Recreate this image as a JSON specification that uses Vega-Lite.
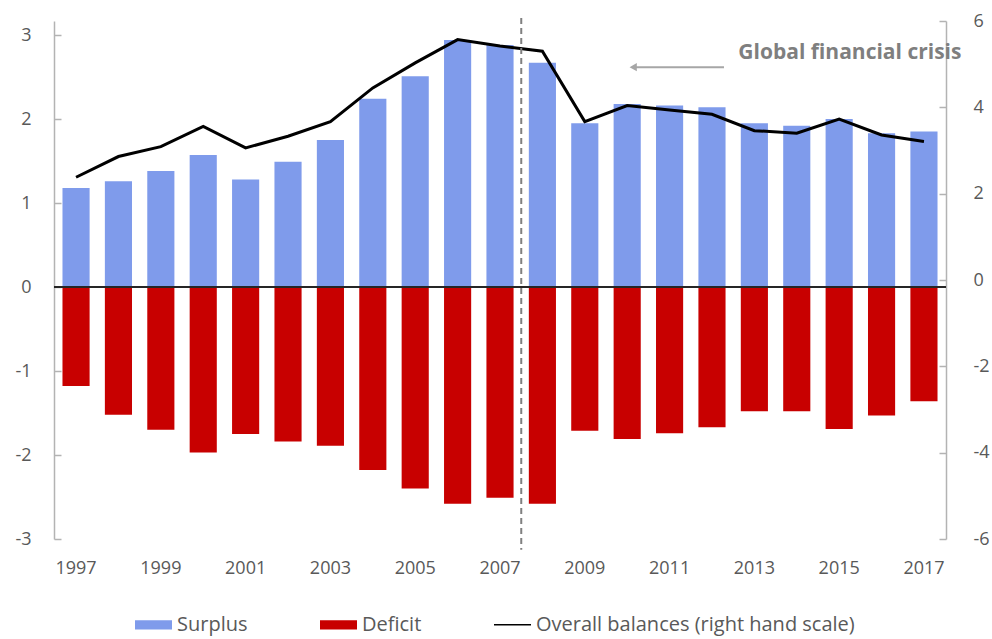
{
  "$schema": "https://vega.github.io/schema/vega-lite/v6.json",
  "width": 892,
  "height": 518,
  "autosize": {"type": "none"},
  "padding": {"left": 54, "top": 21, "right": 46, "bottom": 100},
  "background": "white",
  "config": {
    "view": {"stroke": null},
    "font": "Open Sans",
    "axis": {
      "grid": false,
      "labelFont": "Open Sans",
      "labelFontSize": 18,
      "labelColor": "#595959",
      "domainColor": "#b3b3b3",
      "domainWidth": 1.5,
      "tickColor": "#b3b3b3",
      "tickWidth": 1.5,
      "title": null
    }
  },
  "datasets": {
    "balances": [
      {"year": 1997, "Surplus": 1.18, "Deficit": -1.18, "Overall": 2.38},
      {"year": 1998, "Surplus": 1.26, "Deficit": -1.52, "Overall": 2.86},
      {"year": 1999, "Surplus": 1.38, "Deficit": -1.70, "Overall": 3.09},
      {"year": 2000, "Surplus": 1.57, "Deficit": -1.97, "Overall": 3.56},
      {"year": 2001, "Surplus": 1.28, "Deficit": -1.75, "Overall": 3.06},
      {"year": 2002, "Surplus": 1.49, "Deficit": -1.84, "Overall": 3.33},
      {"year": 2003, "Surplus": 1.75, "Deficit": -1.89, "Overall": 3.67},
      {"year": 2004, "Surplus": 2.24, "Deficit": -2.18, "Overall": 4.45},
      {"year": 2005, "Surplus": 2.51, "Deficit": -2.40, "Overall": 5.03},
      {"year": 2006, "Surplus": 2.94, "Deficit": -2.58, "Overall": 5.57},
      {"year": 2007, "Surplus": 2.88, "Deficit": -2.51, "Overall": 5.42},
      {"year": 2008, "Surplus": 2.67, "Deficit": -2.58, "Overall": 5.30},
      {"year": 2009, "Surplus": 1.95, "Deficit": -1.71, "Overall": 3.67},
      {"year": 2010, "Surplus": 2.18, "Deficit": -1.81, "Overall": 4.04},
      {"year": 2011, "Surplus": 2.16, "Deficit": -1.74, "Overall": 3.94},
      {"year": 2012, "Surplus": 2.14, "Deficit": -1.67, "Overall": 3.84},
      {"year": 2013, "Surplus": 1.95, "Deficit": -1.48, "Overall": 3.46},
      {"year": 2014, "Surplus": 1.92, "Deficit": -1.48, "Overall": 3.40},
      {"year": 2015, "Surplus": 2.00, "Deficit": -1.69, "Overall": 3.73},
      {"year": 2016, "Surplus": 1.83, "Deficit": -1.53, "Overall": 3.36},
      {"year": 2017, "Surplus": 1.85, "Deficit": -1.36, "Overall": 3.21}
    ]
  },
  "data": {"name": "balances"},
  "layer": [
    {
      "layer": [
        {
          "transform": [{"fold": ["Surplus", "Deficit"], "as": ["series", "value"]}],
          "mark": {"type": "bar"},
          "encoding": {
            "x": {
              "field": "year",
              "type": "ordinal",
              "scale": {"paddingInner": 0.36, "paddingOuter": 0.2},
              "axis": {
                "orient": "bottom",
                "values": [1997, 1999, 2001, 2003, 2005, 2007, 2009, 2011, 2013, 2015, 2017],
                "domain": false,
                "ticks": false,
                "tickSize": 0,
                "labelPadding": 20,
                "labelAngle": 0
              }
            },
            "y": {
              "field": "value",
              "type": "quantitative",
              "stack": null,
              "scale": {"domain": [-3, 3.1667], "nice": false, "zero": false},
              "axis": {
                "orient": "left",
                "values": [-3, -2, -1, 0, 1, 2, 3],
                "tickSize": -7,
                "labelPadding": 30,
                "labelExpr": "'' + datum.value"
              }
            },
            "color": {
              "field": "series",
              "type": "nominal",
              "scale": {
                "domain": ["Surplus", "Deficit", "Overall balances (right hand scale)"],
                "range": ["#7f9beb", "#c80000", "#000000"]
              },
              "legend": {
                "title": null,
                "orient": "none",
                "direction": "horizontal",
                "legendX": 81,
                "legendY": 585,
                "padding": 0,
                "symbolType": "M-1,-0.25H1V0.25H-1Z",
                "symbolSize": 1369,
                "symbolStrokeWidth": 0,
                "labelOffset": 5,
                "columnPadding": 72,
                "labelFont": "Open Sans",
                "labelFontSize": 20,
                "labelColor": "#595959",
                "labelLimit": 600,
                "encode": {
                  "symbols": {
                    "update": {
                      "shape": {"signal": "datum.value === 'Overall balances (right hand scale)' ? 'M-1,-0.045H1V0.045H-1Z' : 'M-1,-0.25H1V0.25H-1Z'"},
                      "fill": {"signal": "datum.value === 'Surplus' ? '#7f9beb' : datum.value === 'Deficit' ? '#c80000' : '#000000'"},
                      "strokeWidth": {"value": 0}
                    }
                  }
                }
              }
            }
          }
        },
        {
          "data": {"values": [{}]},
          "mark": {"type": "rule", "color": "#262626", "strokeWidth": 2},
          "encoding": {"y": {"datum": 0, "type": "quantitative"}}
        }
      ]
    },
    {
      "layer": [
        {
          "mark": {"type": "line", "strokeWidth": 3},
          "encoding": {
            "x": {"field": "year", "type": "ordinal"},
            "y": {
              "field": "Overall",
              "type": "quantitative",
              "scale": {"domain": [-6, 6], "nice": false},
              "axis": {
                "orient": "right",
                "values": [-6, -4, -2, 0, 2, 4, 6],
                "tickSize": -7,
                "labelPadding": 34,
                "labelExpr": "'' + datum.value"
              }
            },
            "color": {"datum": "Overall balances (right hand scale)"}
          }
        },
        {
          "data": {"values": [{}]},
          "mark": {"type": "rule", "color": "#808080", "strokeWidth": 2, "strokeDash": [6, 4], "xOffset": 21.25},
          "encoding": {
            "x": {"datum": 2007, "type": "ordinal"},
            "y": {"datum": 6.07, "type": "quantitative"},
            "y2": {"datum": -6.25}
          }
        },
        {
          "data": {"values": [{}]},
          "mark": {"type": "text", "text": "Global financial crisis", "align": "left", "baseline": "middle", "dx": -16, "font": "Open Sans", "fontSize": 21, "fontWeight": "bold", "color": "#7f7f7f"},
          "encoding": {
            "x": {"datum": 2013, "type": "ordinal"},
            "y": {"datum": 5.26, "type": "quantitative"}
          }
        },
        {
          "data": {"values": [{}]},
          "mark": {"type": "rule", "color": "#a6a6a6", "strokeWidth": 2, "xOffset": 12, "x2Offset": 8},
          "encoding": {
            "x": {"datum": 2012, "type": "ordinal"},
            "x2": {"datum": 2010},
            "y": {"datum": 4.93, "type": "quantitative"}
          }
        },
        {
          "data": {"values": [{}]},
          "mark": {"type": "point", "shape": "triangle-left", "filled": true, "size": 70, "color": "#a6a6a6", "opacity": 1, "xOffset": 6},
          "encoding": {
            "x": {"datum": 2010, "type": "ordinal"},
            "y": {"datum": 4.93, "type": "quantitative"}
          }
        }
      ]
    }
  ],
  "resolve": {"scale": {"y": "independent"}}
}
